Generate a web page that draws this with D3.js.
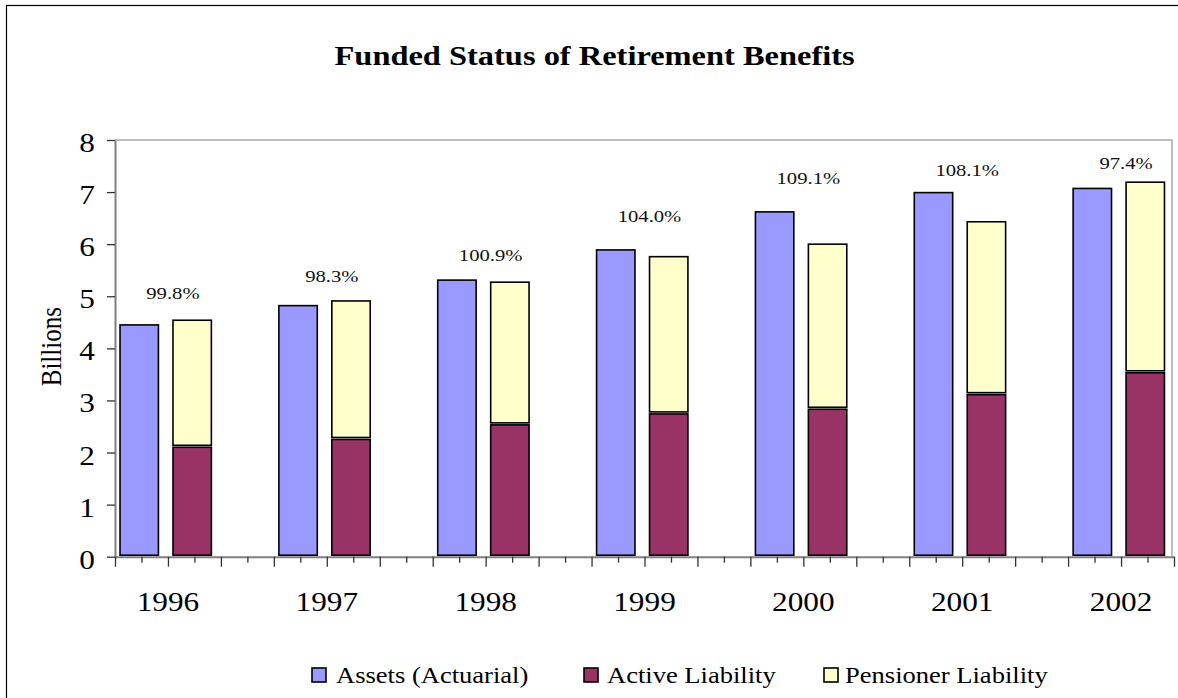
<!DOCTYPE html>
<html><head><meta charset="utf-8">
<script src="https://cdn.jsdelivr.net/npm/d3@7"></script>
<style>
html,body{margin:0;padding:0;background:#fff;overflow:hidden}
svg text{font-family:"Liberation Serif","Times New Roman",Times,serif;}
</style>
</head><body><svg id="c" width="1178" height="698"></svg>
<script>
// ---- data ----
const years = ["1996","1997","1998","1999","2000","2001","2002"];
const assets = [4.45, 4.82, 5.31, 5.89, 6.62, 6.99, 7.07];
const activeLiability = [2.12, 2.27, 2.55, 2.76, 2.85, 3.13, 3.55];
const pensionerLiability = [2.42, 2.64, 2.72, 3.00, 3.15, 3.30, 3.64];
const fundedRatio = ["99.8%","98.3%","100.9%","104.0%","109.1%","108.1%","97.4%"];
const ratioLabelLevel = [5.06, 5.38, 5.79, 6.55, 7.28, 7.42, 7.56];
const yTicks = [0,1,2,3,4,5,6,7,8];
const seriesNames = ["Assets (Actuarial)","Active Liability","Pensioner Liability"];
const seriesColors = ["#9999FF","#993366","#FFFFCC"];
const titleText = "Funded Status of Retirement Benefits";
const yTitle = "Billions";

// ---- layout ----
const SX = 1.18;
const svg = d3.select("#c");
const L = 115, R = 1174, T = 140, B = 556.7, FR = 1172;

// slots: asset, liability, gap for each year (no gap after last)
const slots = [];
years.forEach((yr,i)=>{ slots.push(yr+"-A"); slots.push(yr+"-L"); if(i<years.length-1) slots.push(yr+"-G"); });
const x = d3.scaleBand().domain(slots).range([L,R]).padding(0);
const xi = d3.scaleLinear().domain([0, slots.length]).range([L,R]);
const y = d3.scaleLinear().domain([0,8]).range([B,T]);
const bw = x.bandwidth();
const barOff = bw*0.095, barW = bw*0.725;

function stext(g, tx, ty, str, size, opts={}) {
  return g.append("text")
    .attr("transform", `translate(${tx},${ty}) scale(${SX},1)` + (opts.rot?` rotate(${opts.rot})`:""))
    .attr("text-anchor", opts.anchor||"start")
    .style("font-size", size+"px")
    .style("font-weight", opts.bold?"bold":"normal")
    .attr("fill", opts.fill||"#000")
    .text(str);
}

// outer chart border
svg.append("rect").attr("x",6.5).attr("y",5.5).attr("width",1400).attr("height",1000)
  .attr("fill","#fff").attr("stroke","#000").attr("stroke-width",1.2);

// title
stext(svg, 594.6, 65.3, titleText, 27.5, {anchor:"middle", bold:true});

// plot frame (top/right)
svg.append("path").attr("d", `M${L},${T}H${FR}V${B}`).attr("fill","none")
  .attr("stroke","#a8a8a8").attr("stroke-width",1.5);

// bars
const g = svg.append("g");
years.forEach((yr,i)=>{
  g.append("rect").attr("x", x(yr+"-A")+barOff).attr("width", barW)
    .attr("y", y(assets[i])).attr("height", y(0)-y(assets[i])-1.5)
    .attr("fill", seriesColors[0]).attr("stroke","#000").attr("stroke-width",1.6);
  const act = activeLiability[i], tot = act + pensionerLiability[i];
  g.append("rect").attr("x", x(yr+"-L")+barOff).attr("width", barW)
    .attr("y", y(act)+1).attr("height", y(0)-y(act)-2.5)
    .attr("fill", seriesColors[1]).attr("stroke","#000").attr("stroke-width",1.6);
  g.append("rect").attr("x", x(yr+"-L")+barOff).attr("width", barW)
    .attr("y", y(tot)).attr("height", y(act)-y(tot)-1)
    .attr("fill", seriesColors[2]).attr("stroke","#000").attr("stroke-width",1.6);
  stext(svg, x(yr+"-L")+5, y(ratioLabelLevel[i])+6, fundedRatio[i], 17.5, {anchor:"middle", fill:"#111"});
  stext(svg, x(yr+"-L"), 611, yr, 26.5, {anchor:"middle"});
});

// y axis
const ya = svg.append("g").attr("transform",`translate(${L},0)`)
  .call(d3.axisLeft(y).tickValues(yTicks).tickSize(8).tickSizeOuter(0).tickFormat(d3.format("d")));
ya.attr("font-family", null).attr("font-size", null);
ya.select(".domain").attr("stroke","#808080").attr("stroke-width",2);
ya.selectAll(".tick line").attr("stroke","#333").attr("stroke-width",1.3);
ya.selectAll(".tick text").attr("x",0).attr("dy",null).attr("y",0)
  .attr("transform","translate(-20,11.5) scale("+SX+",1)")
  .style("font-size","26.5px").attr("fill","#000").attr("text-anchor","end");

// x axis: major ticks at slot boundaries, minor at slot centres
const xaMaj = svg.append("g").attr("transform",`translate(0,${B})`)
  .call(d3.axisBottom(xi).tickValues(d3.range(0, slots.length+1)).tickSize(10).tickSizeOuter(0).tickFormat(""));
xaMaj.select(".domain").attr("stroke","#808080").attr("stroke-width",2);
xaMaj.selectAll(".tick line").attr("stroke","#333").attr("stroke-width",1.3);
const xaMin = svg.append("g").attr("transform",`translate(0,${B})`)
  .call(d3.axisBottom(xi).tickValues(d3.range(0.5, slots.length)).tickSize(6).tickSizeOuter(0).tickFormat(""));
xaMin.select(".domain").remove();
xaMin.selectAll(".tick line").attr("stroke","#333").attr("stroke-width",1.3);

// y title
stext(svg, 61, 346.7, yTitle, 25, {anchor:"middle", rot:-90});

// legend
const legX = [312, 584, 824];
const legTX = [336, 607, 845];
seriesNames.forEach((n,i)=>{
  svg.append("rect").attr("x",legX[i]).attr("y",668).attr("width",14).attr("height",14)
    .attr("fill",seriesColors[i]).attr("stroke","#000").attr("stroke-width",1.6);
  stext(svg, legTX[i], 683.3, n, 22.5);
});
</script></body></html>
